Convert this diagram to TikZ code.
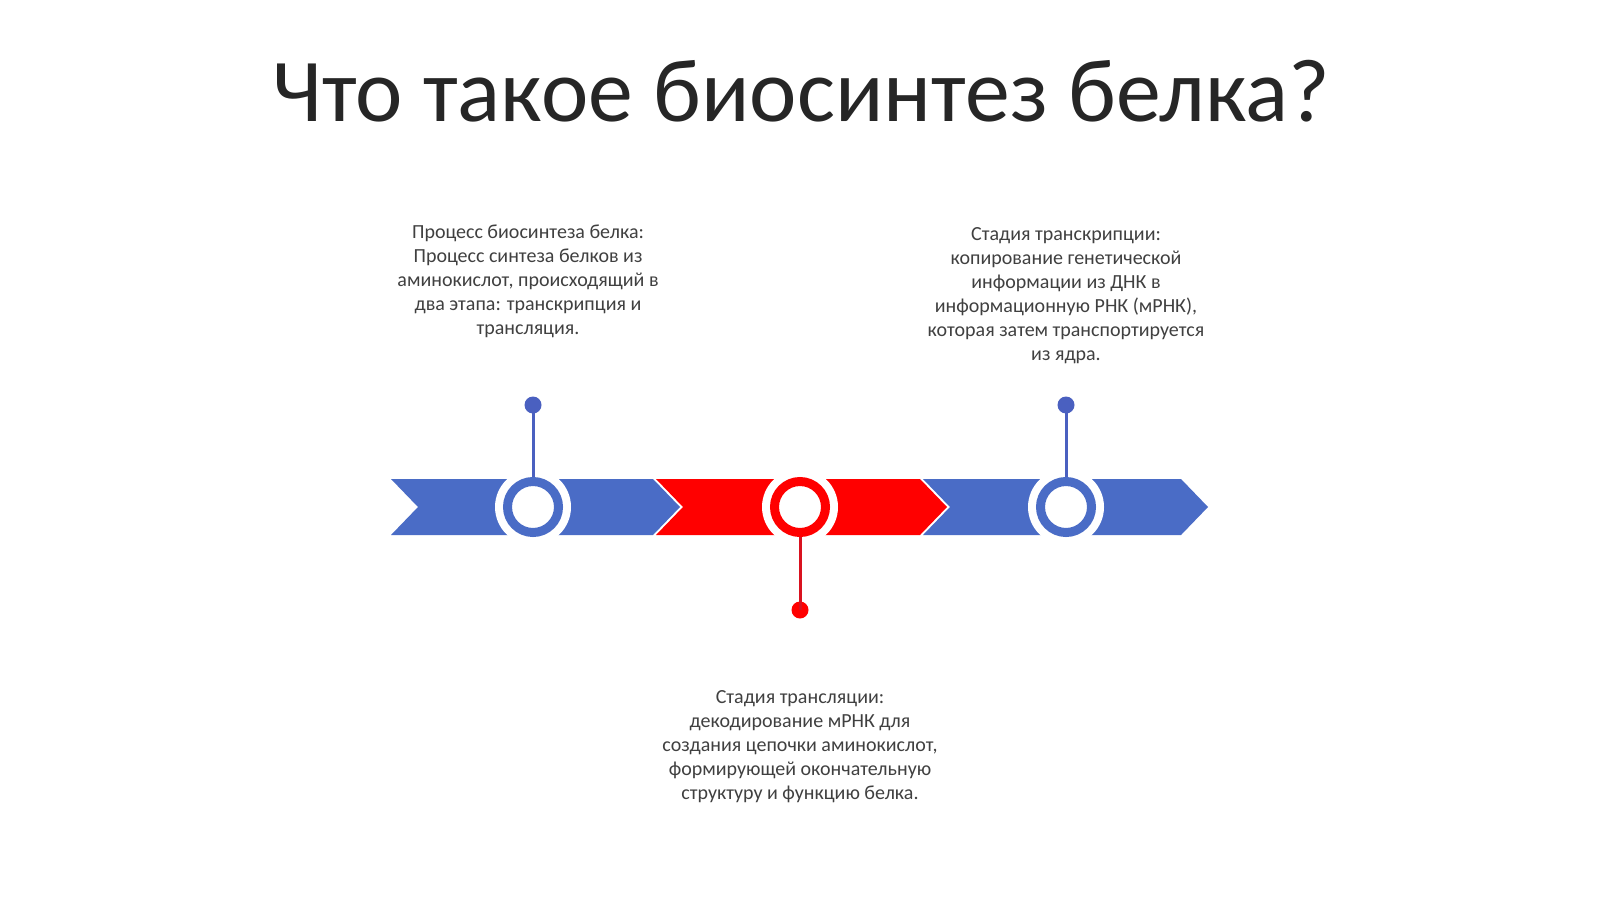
\documentclass[tikz,border=0pt]{standalone}
\usepackage{fontspec}
\setmainfont{Carlito}
\definecolor{chblue}{HTML}{4A6CC6}
\definecolor{stblue}{HTML}{4A60C0}
\definecolor{chred}{HTML}{FF0000}
\definecolor{stred}{HTML}{D9121F}
\definecolor{txt}{HTML}{404040}
\definecolor{ttl}{HTML}{262626}
\begin{document}
\begin{tikzpicture}[x=1pt,y=-1pt,
  halo/.style={circle,fill=white,minimum size=76pt,inner sep=0pt},
  ring/.style={circle,draw=#1,line width=9pt,fill=white,minimum size=51pt,inner sep=0pt,outer sep=4.5pt},
  dotnode/.style={circle,fill=#1,minimum size=17pt,inner sep=0pt},
  stem/.style={draw=#1,line width=3pt},
  body/.style={text=txt,align=center,font=\fontsize{20}{24}\selectfont},
]
\useasboundingbox (0,0) rectangle (1600,899);
\fill[white] (0,0) rectangle (1600,899);
% title
\node[anchor=base,text=ttl,font=\fontsize{89.7}{100}\selectfont,inner sep=0pt] (title) at (801,121) {Что такое биосинтез белка?};
% chevrons
\fill[chblue] (391,479) -- (653,479) -- (680,507) -- (653,535) -- (391,535) -- (418,507) -- cycle;
\fill[chred] (656,479) -- (920,479) -- (947,507) -- (920,535) -- (656,535) -- (683,507) -- cycle;
\fill[chblue] (923,479) -- (1181,479) -- (1208,507) -- (1181,535) -- (923,535) -- (950,507) -- cycle;
% halos and rings
\node[halo] (h1) at (533,507) {};
\node[halo] (h2) at (800,507) {};
\node[halo] (h3) at (1066,507) {};
\node[ring=chblue] (c1) at (533,507) {};
\node[ring=chred] (c2) at (800,507) {};
\node[ring=chblue] (c3) at (1066,507) {};
% dots and stems
\node[dotnode=stblue] (d1) at (533,405) {};
\node[dotnode=chred] (d2) at (800,610) {};
\node[dotnode=stblue] (d3) at (1066,405) {};
\draw[stem=stblue] (c1.north) -- (d1.center);
\draw[stem=stred] (c2.south) -- (d2.center);
\draw[stem=stblue] (c3.north) -- (d3.center);
% texts
\node[body] (t1) at (528,281) {Процесс биосинтеза белка:\\Процесс синтеза белков из\\аминокислот, происходящий в\\два этапа: транскрипция и\\трансляция.};
\node[body] (t3) at (1066,296) {Стадия транскрипции:\\копирование генетической\\информации из ДНК в\\информационную РНК (мРНК),\\которая затем транспортируется\\из ядра.};
\node[body] (t2) at (800,747) {Стадия трансляции:\\декодирование мРНК для\\создания цепочки аминокислот,\\формирующей окончательную\\структуру и функцию белка.};
\end{tikzpicture}
\end{document}
